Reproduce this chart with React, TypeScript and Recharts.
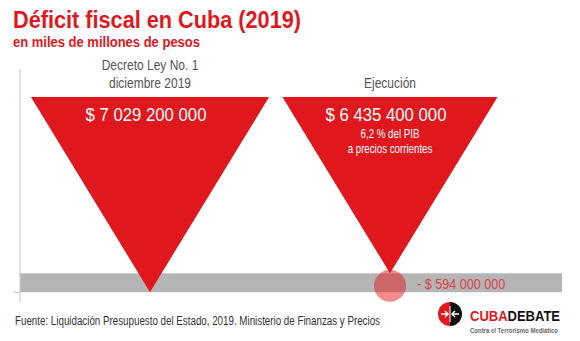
import React from 'react';
import { ComposedChart, Bar, XAxis, YAxis, ReferenceArea, ReferenceDot, LabelList } from 'recharts';

// déficit fiscal, millones de pesos
const categories = ['Decreto Ley No. 1\ndiciembre 2019', 'Ejecución'];
const deficit = [7029.2, 6435.4];
const notes = ['', '6,2 % del PIB\na precios corrientes'];
const gap = 594.0;

const data = categories.map((name, i) => ({ name, value: deficit[i], note: notes[i] }));

const RED = '#e1171e';
const FONT = "'Liberation Sans', Arial, sans-serif";
const TOP_INSET = 28;
const PAD_L = 10;
const PAD_R = 52;

const fmt = (v: number) =>
  Math.round(v * 1e6).toString().replace(/\B(?=(\d{3})+(?!\d))/g, ' ');

// horizontal squeeze around an anchor x, to mimic a condensed face
const squeeze = (cx: number, k: number) => `translate(${cx},0) scale(${k},1) translate(${-cx},0)`;

const Triangle = (props: any) => {
  const { x, y, width, height, fill } = props;
  const y0 = Math.min(y, y + height);
  const tip = Math.max(y, y + height);
  const top = y0 + TOP_INSET;
  const cx = x + width / 2;
  const half = (tip - top) * 0.61;
  return <path d={`M${cx - half},${top}L${cx + half},${top}L${cx},${tip}Z`} fill={fill} />;
};

const Band = (props: any) => {
  const { x, y, width, height } = props;
  return <rect x={x - PAD_L} y={y} width={width + PAD_L + PAD_R} height={height} fill="#b5b5b5" />;
};

const NameLabel = (props: any) => {
  const { x, y, width, height, value } = props;
  const top = Math.min(y, y + height) + TOP_INSET;
  const cx = x + width / 2;
  const lines = String(value).split('\n');
  return (
    <text textAnchor="middle" fill="#555" fontSize={15} fontFamily={FONT} transform={squeeze(cx, 0.8)}>
      {lines.map((l, i) => (
        <tspan key={i} x={cx} y={top - 9 - (lines.length - 1 - i) * 18}>{l}</tspan>
      ))}
    </text>
  );
};

const ValueLabel = (props: any) => {
  const { x, y, width, height, value } = props;
  const top = Math.min(y, y + height) + TOP_INSET;
  const cx = x + width / 2 - 4;
  return (
    <text x={cx} y={top + 24} textAnchor="middle" fill="#fff" fontSize={18} fontFamily={FONT} transform={squeeze(cx, 0.93)}>
      $ {fmt(value)}
    </text>
  );
};

const NoteLabel = (props: any) => {
  const { x, y, width, height, value } = props;
  if (!value) return null;
  const top = Math.min(y, y + height) + TOP_INSET;
  const cx = x + width / 2;
  return (
    <text textAnchor="middle" fill="#fff" fontSize={12} fontFamily={FONT} transform={squeeze(cx, 0.81)}>
      {String(value).split('\n').map((l, i) => (
        <tspan key={i} x={cx} y={top + 41 + i * 15}>{l}</tspan>
      ))}
    </text>
  );
};

const GapDot = (props: any) => {
  const { cx, cy } = props;
  const tx = cx + 27;
  return (
    <g>
      <circle cx={cx} cy={cy + 3} r={16} fill={RED} fillOpacity={0.5} />
      <text x={tx} y={cy + 6} fill="#d8434a" fontSize={14} fontFamily={FONT} transform={squeeze(tx, 0.9)}>
        - $ {fmt(gap)}
      </text>
    </g>
  );
};

export default function App() {
  return (
    <div style={{ position: 'absolute', left: 0, top: 0, width: 580, height: 341, background: '#fff' }}>
      <ComposedChart width={580} height={341} data={data} margin={{ top: 69, right: 18, bottom: 38, left: 8 }}>
        <XAxis dataKey="name" hide padding={{ left: PAD_L, right: PAD_R }} />
        <YAxis
          reversed
          width={12}
          domain={[0, 7370]}
          allowDataOverflow
          ticks={[deficit[0]]}
          tick={() => <g />}
          tickSize={7}
          axisLine={{ stroke: '#c8c8c8' }}
          tickLine={{ stroke: '#c8c8c8' }}
        />
        <ReferenceArea y1={deficit[0] - gap} y2={deficit[0]} shape={<Band />} />
        <Bar dataKey="value" fill={RED} shape={<Triangle />} isAnimationActive={false}>
          <LabelList dataKey="name" content={<NameLabel />} />
          <LabelList dataKey="value" content={<ValueLabel />} />
          <LabelList dataKey="note" content={<NoteLabel />} />
        </Bar>
        <ReferenceDot x={categories[1]} y={deficit[0] - gap / 2} shape={<GapDot />} />
      </ComposedChart>
      <svg width={580} height={341} style={{ position: 'absolute', left: 0, top: 0, pointerEvents: 'none' }}>
        <text x={13} y={28} fill={RED} fontSize={23} fontWeight="bold" fontFamily={FONT} textLength={288} lengthAdjust="spacingAndGlyphs">
          Déficit fiscal en Cuba (2019)
        </text>
        <text x={13} y={47} fill={RED} fontSize={14} fontWeight="bold" fontFamily={FONT} textLength={187} lengthAdjust="spacingAndGlyphs">
          en miles de millones de pesos
        </text>
        <text x={15} y={325} fill="#333" fontSize={12} fontFamily={FONT} textLength={365} lengthAdjust="spacingAndGlyphs">
          Fuente: Liquidación Presupuesto del Estado, 2019. Ministerio de Finanzas y Precios
        </text>
        <g>
          <path d="M450,302 A12,12 0 0 0 450,326 Z" fill={RED} />
          <path d="M450,302 A12,12 0 0 1 450,326 Z" fill="#111" />
          <line x1={441} y1={314} x2={448} y2={314} stroke="#fff" strokeWidth={1.5} />
          <path d="M445,311 L448,314 L445,317" stroke="#fff" strokeWidth={1.5} fill="none" />
          <line x1={452} y1={314} x2={459} y2={314} stroke="#fff" strokeWidth={1.5} />
          <path d="M455,311 L452,314 L455,317" stroke="#fff" strokeWidth={1.5} fill="none" />
          <line x1={450} y1={306} x2={450} y2={322} stroke="#fff" strokeWidth={1} />
          <text x={470} y={321} fontSize={15} fontWeight="bold" fontFamily={FONT} textLength={90} lengthAdjust="spacingAndGlyphs">
            <tspan fill={RED}>CUBA</tspan>
            <tspan fill="#111">DEBATE</tspan>
          </text>
          <text x={470} y={333} fontSize={7} fontWeight="bold" fill="#666" fontFamily={FONT} textLength={88} lengthAdjust="spacingAndGlyphs">
            Contra el Terrorismo Mediático
          </text>
        </g>
      </svg>
    </div>
  );
}
